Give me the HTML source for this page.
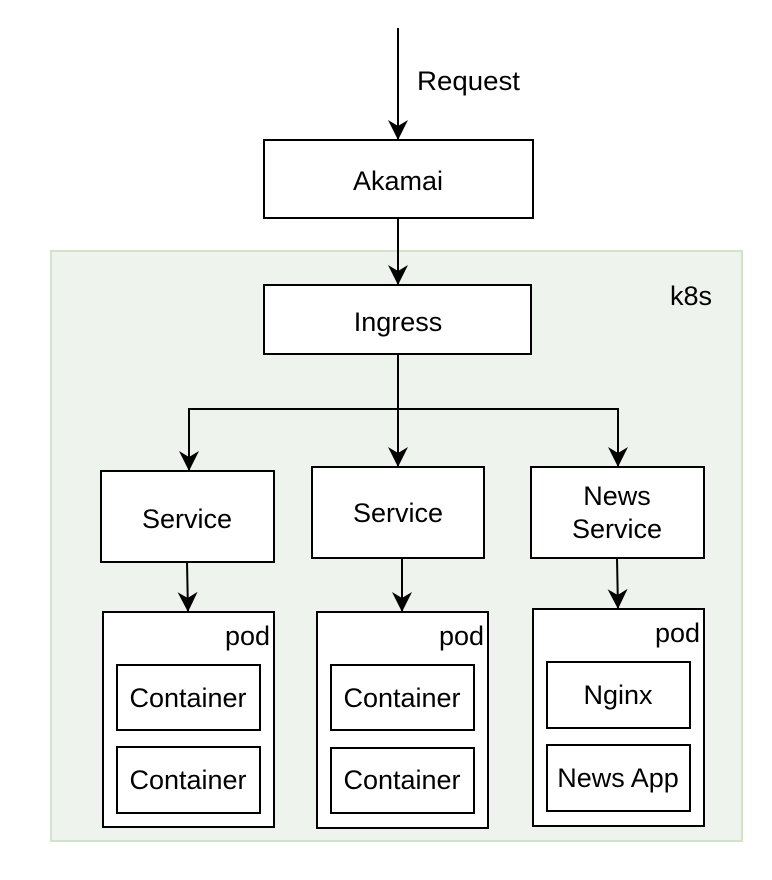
<!DOCTYPE html>
<html><head><meta charset="utf-8"><style>
html,body{margin:0;padding:0;background:#fff;}
svg{display:block;}
text{font-family:"Liberation Sans",Arial,sans-serif;font-size:27px;fill:#000;}
</style></head><body>
<svg width="772" height="880" viewBox="0 0 772 880" xmlns="http://www.w3.org/2000/svg">
<defs>
<marker id="b" viewBox="0 0 10 10" refX="10" refY="5" markerWidth="20" markerHeight="22" markerUnits="userSpaceOnUse" orient="auto"><path d="M0,0 L10,5 L0,10 L3,5 z" fill="#000"/></marker></defs>
<rect x="51" y="251" width="691" height="590" fill="#eef3ee" stroke="#d1e4c9" stroke-width="2"/>
<text x="670" y="305">k8s</text>
<g fill="none" stroke="#000" stroke-width="2">
<line x1="398" y1="28" x2="398" y2="140" marker-end="url(#b)"/>
<line x1="398" y1="218" x2="398" y2="285" marker-end="url(#b)"/>
<polyline points="398,354 398,467" marker-end="url(#b)"/>
<polyline points="398,409 189,409 189,471" marker-end="url(#b)"/>
<polyline points="398,409 618,409 618,467" marker-end="url(#b)"/>
<line x1="187" y1="562" x2="188" y2="612" marker-end="url(#b)"/>
<line x1="402" y1="558" x2="402" y2="612" marker-end="url(#b)"/>
<line x1="617" y1="558" x2="618" y2="609" marker-end="url(#b)"/>
</g>
<g fill="#fff" stroke="#000" stroke-width="2">
<rect x="264" y="140" width="269" height="78"/>
<rect x="264" y="285" width="267" height="69"/>
<rect x="101" y="471" width="173" height="91"/>
<rect x="312" y="467" width="172" height="91"/>
<rect x="531" y="467" width="173" height="91"/>
<rect x="103" y="612" width="171" height="215"/>
<rect x="317" y="612" width="171" height="216"/>
<rect x="533" y="609" width="171" height="217"/>
<rect x="117" y="665" width="143" height="65"/>
<rect x="117" y="747" width="143" height="66"/>
<rect x="331" y="665" width="143" height="65"/>
<rect x="331" y="748" width="143" height="65"/>
<rect x="547" y="662" width="143" height="66"/>
<rect x="547" y="745" width="143" height="66"/>
</g>
<text x="417" y="90" textLength="103" lengthAdjust="spacingAndGlyphs">Request</text>
<g text-anchor="middle">
<text x="398" y="190">Akamai</text>
<text x="398" y="331">Ingress</text>
<text x="187" y="528">Service</text>
<text x="398" y="522">Service</text>
<text x="617" y="505">News</text>
<text x="617" y="538">Service</text>
<text x="188" y="707">Container</text>
<text x="188" y="789">Container</text>
<text x="402" y="707">Container</text>
<text x="402" y="789">Container</text>
<text x="618" y="704">Nginx</text>
<text x="618" y="787">News App</text>
</g>
<g text-anchor="end">
<text x="270" y="645">pod</text>
<text x="484" y="645">pod</text>
<text x="700" y="642">pod</text>
</g>
</svg>
</body></html>
